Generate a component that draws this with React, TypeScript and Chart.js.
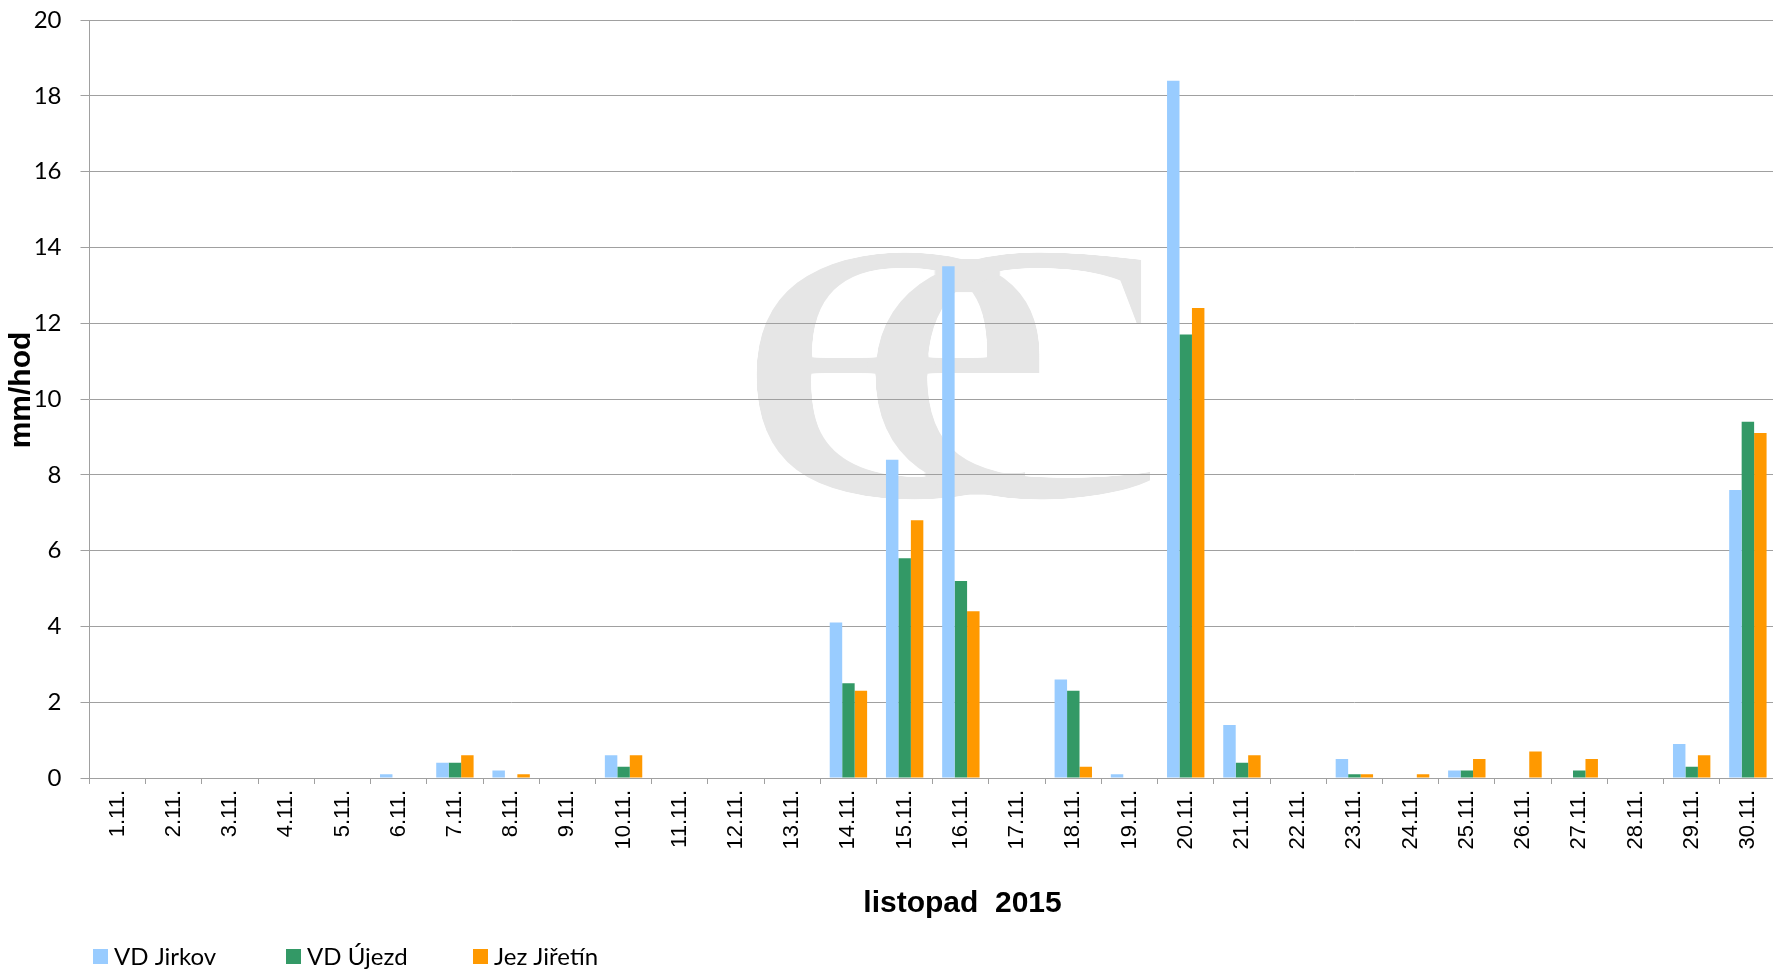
import React, { useEffect, useRef } from 'react';
import { Chart, registerables } from 'chart.js';

Chart.register(...registerables);

// ---- data ----
const categories = [
  '1.11.', '2.11.', '3.11.', '4.11.', '5.11.', '6.11.', '7.11.', '8.11.', '9.11.', '10.11.',
  '11.11.', '12.11.', '13.11.', '14.11.', '15.11.', '16.11.', '17.11.', '18.11.', '19.11.', '20.11.',
  '21.11.', '22.11.', '23.11.', '24.11.', '25.11.', '26.11.', '27.11.', '28.11.', '29.11.', '30.11.',
];
const vdJirkov = [0, 0, 0, 0, 0, 0.1, 0.4, 0.2, 0, 0.6, 0, 0, 0, 4.1, 8.4, 13.5, 0, 2.6, 0.1, 18.4, 1.4, 0, 0.5, 0, 0.2, 0, 0, 0, 0.9, 7.6];
const vdUjezd = [0, 0, 0, 0, 0, 0, 0.4, 0, 0, 0.3, 0, 0, 0, 2.5, 5.8, 5.2, 0, 2.3, 0, 11.7, 0.4, 0, 0.1, 0, 0.2, 0, 0.2, 0, 0.3, 9.4];
const jezJiretin = [0, 0, 0, 0, 0, 0, 0.6, 0.1, 0, 0.6, 0, 0, 0, 2.3, 6.8, 4.4, 0, 0.3, 0, 12.4, 0.6, 0, 0.1, 0.1, 0.5, 0.7, 0.5, 0, 0.6, 9.1];
const seriesLabels = ['VD Jirkov', 'VD Újezd', 'Jez Jiřetín'];
const seriesColors = ['#99CCFF', '#339966', '#FF9900'];
const yMin = 0;
const yMax = 20;
const yStep = 2;
const xTitle = 'listopad  2015';
const yTitle = 'mm/hod';

// ---- watermark (light logo behind the plot) ----
function fillGlyph(ctx: CanvasRenderingContext2D, ch: string, x: number, y: number, w: number, h: number) {
  ctx.save();
  ctx.font = '400px "Liberation Serif"';
  ctx.textAlign = 'left';
  ctx.textBaseline = 'alphabetic';
  const m = ctx.measureText(ch);
  const gw = m.actualBoundingBoxLeft + m.actualBoundingBoxRight;
  const gh = m.actualBoundingBoxAscent + m.actualBoundingBoxDescent;
  ctx.translate(x, y);
  ctx.scale(w / gw, h / gh);
  ctx.fillStyle = '#e6e6e6';
  ctx.fillText(ch, m.actualBoundingBoxLeft, m.actualBoundingBoxAscent);
  ctx.restore();
}

function drawWatermark(ctx: CanvasRenderingContext2D) {
  const ox = 700;
  const oy = 200;
  const W = 520;
  const H = 360;
  const rh = 8; // horizontal thinning
  const rv = 2; // vertical thinning
  const a = document.createElement('canvas');
  a.width = W;
  a.height = H;
  const actx = a.getContext('2d') as CanvasRenderingContext2D;
  fillGlyph(actx, 'e', 750 - rh - ox, 245 - rv - oy, 300 + 2 * rh, 258 + 2 * rv);
  fillGlyph(actx, 'c', 870 - rh - ox, 245 - rv - oy, 287 + 2 * rh, 258 + 2 * rv);
  const b = document.createElement('canvas');
  b.width = W;
  b.height = H;
  const bctx = b.getContext('2d') as CanvasRenderingContext2D;
  bctx.drawImage(a, 0, 0);
  bctx.globalCompositeOperation = 'destination-in';
  for (let s = -rh; s <= rh; s += 1) {
    if (s !== 0) bctx.drawImage(a, s, 0);
  }
  const c = document.createElement('canvas');
  c.width = W;
  c.height = H;
  const cctx = c.getContext('2d') as CanvasRenderingContext2D;
  cctx.drawImage(b, 0, 0);
  cctx.globalCompositeOperation = 'destination-in';
  for (let s = -rv; s <= rv; s += 1) {
    if (s !== 0) cctx.drawImage(b, 0, s);
  }
  ctx.drawImage(c, ox, oy);
}

const decorPlugin = {
  id: 'decor',
  beforeDraw(chart: any) {
    const ctx: CanvasRenderingContext2D = chart.ctx;
    ctx.save();
    ctx.fillStyle = '#ffffff';
    ctx.fillRect(0, 0, chart.width, chart.height);
    drawWatermark(ctx);
    ctx.restore();
  },
  afterDraw(chart: any) {
    const ctx: CanvasRenderingContext2D = chart.ctx;
    ctx.save();
    ctx.fillStyle = '#000000';
    // x axis title
    ctx.font = 'bold 30px "Liberation Sans"';
    ctx.textAlign = 'center';
    ctx.textBaseline = 'alphabetic';
    ctx.fillText(xTitle, 962.5, 911.5);
    // y axis title
    ctx.save();
    ctx.translate(30, 390);
    ctx.rotate(-Math.PI / 2);
    ctx.fillText(yTitle, 0, 0);
    ctx.restore();
    // legend
    const boxX = [93, 286, 473];
    const cy = 956.5;
    const size = 15;
    ctx.font = '24px Lato';
    ctx.textAlign = 'left';
    ctx.textBaseline = 'middle';
    chart.data.datasets.forEach((ds: any, i: number) => {
      ctx.fillStyle = ds.backgroundColor;
      ctx.fillRect(boxX[i], cy - size / 2, size, size);
      ctx.fillStyle = '#000000';
      ctx.fillText(ds.label, boxX[i] + 21, cy + 1);
    });
    ctx.restore();
  },
};

export default function App() {
  const canvasRef = useRef<HTMLCanvasElement | null>(null);

  useEffect(() => {
    document.body.style.margin = '0';
    document.body.style.overflow = 'hidden';
    const canvas = canvasRef.current;
    if (!canvas) return;
    const seriesValues = [vdJirkov, vdUjezd, jezJiretin];
    const gridColor = '#a0a0a0';
    const chart = new Chart(canvas, {
      type: 'bar',
      data: {
        labels: categories,
        datasets: seriesLabels.map((label, i) => ({
          label,
          data: seriesValues[i],
          backgroundColor: seriesColors[i],
          borderWidth: 0,
          barPercentage: 1,
          categoryPercentage: 0.665,
        })),
      },
      options: {
        animation: false,
        responsive: false,
        devicePixelRatio: 1,
        layout: { padding: { top: 20, left: 0, right: 0, bottom: 0 } },
        plugins: {
          legend: { display: false },
          tooltip: { enabled: false },
          title: { display: false },
        },
        scales: {
          x: {
            offset: true,
            grid: {
              display: true,
              drawOnChartArea: false,
              drawTicks: true,
              tickLength: 6,
              color: gridColor,
              lineWidth: 1,
            },
            border: { display: true, color: gridColor, width: 1 },
            ticks: {
              autoSkip: false,
              minRotation: 90,
              maxRotation: 90,
              padding: 6,
              color: '#000000',
              font: { family: '"Liberation Sans"', size: 22 },
            },
            afterFit: (scale: any) => {
              scale.height = 193;
              scale.paddingLeft = 0;
              scale.paddingRight = 0;
            },
          },
          y: {
            min: yMin,
            max: yMax,
            ticks: {
              stepSize: yStep,
              padding: 19,
              color: '#000000',
              font: { family: 'Lato', size: 24 },
            },
            grid: {
              display: true,
              drawOnChartArea: true,
              drawTicks: true,
              tickLength: 9,
              color: gridColor,
              lineWidth: 1,
            },
            border: { display: true, color: gridColor, width: 1 },
            afterFit: (scale: any) => {
              scale.width = 89.5;
              scale.paddingTop = 0;
              scale.paddingBottom = 0;
            },
          },
        },
      },
      plugins: [decorPlugin],
    });
    return () => {
      chart.destroy();
    };
  }, []);

  return (
    <div style={{ width: '1773px', height: '971px', overflow: 'hidden', background: '#ffffff' }}>
      <canvas ref={canvasRef} width={1776} height={971} style={{ display: 'block' }} />
    </div>
  );
}
